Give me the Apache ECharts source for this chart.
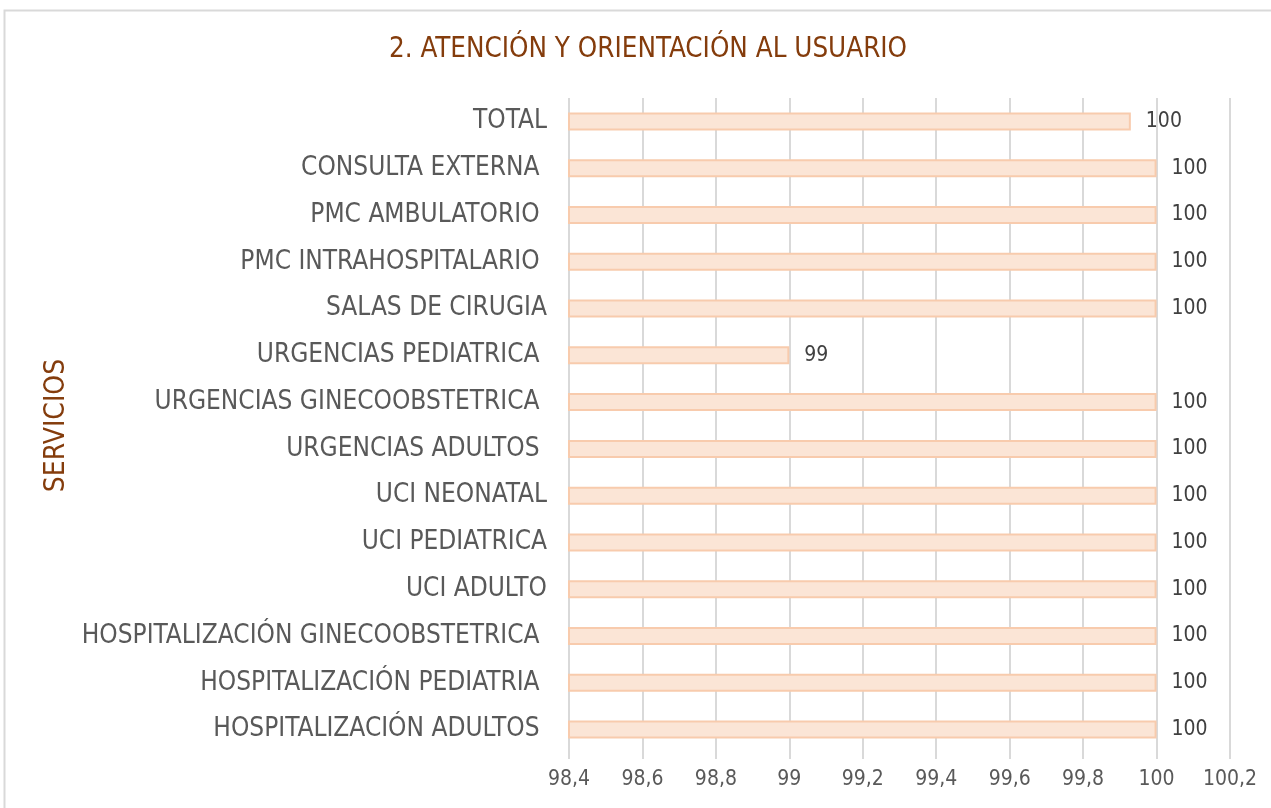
<!DOCTYPE html>
<html>
<head>
<meta charset="utf-8">
<script src="https://cdn.jsdelivr.net/npm/echarts@6/dist/echarts.min.js"></script>
<style>
  html, body { margin: 0; padding: 0; background: #fff; }
  #chart { width: 1271px; height: 808px; }
</style>
</head>
<body>
<div id="chart"></div>
<script>
// servicios, de arriba hacia abajo
var servicios = [
  'TOTAL',
  'CONSULTA EXTERNA ',
  'PMC AMBULATORIO ',
  'PMC INTRAHOSPITALARIO ',
  'SALAS DE CIRUGIA',
  'URGENCIAS PEDIATRICA ',
  'URGENCIAS GINECOOBSTETRICA ',
  'URGENCIAS ADULTOS ',
  'UCI NEONATAL',
  'UCI PEDIATRICA',
  'UCI ADULTO',
  'HOSPITALIZACIÓN GINECOOBSTETRICA ',
  'HOSPITALIZACIÓN PEDIATRIA ',
  'HOSPITALIZACIÓN ADULTOS '
];
var valores = [99.93, 100, 100, 100, 100, 99, 100, 100, 100, 100, 100, 100, 100, 100];
var ejeMin = 98.4;
var ejeMax = 100.2;
var ejePaso = 0.2;

var chart = echarts.init(document.getElementById('chart'), null, { renderer: 'canvas' });

var font = '"DejaVu Sans Condensed", "DejaVu Sans", sans-serif';

var option = {
  backgroundColor: '#ffffff',
  animation: false,
  textStyle: { fontFamily: font },
  title: {
    text: '2. ATENCIÓN Y ORIENTACIÓN AL USUARIO',
    left: 384,
    top: 31,
    textStyle: { color: '#843c0c', fontSize: 27.5, fontWeight: 'normal', fontFamily: font }
  },
  graphic: [{
    type: 'rect',
    shape: { x: 4.5, y: 10.5, width: 1300, height: 830 },
    style: { fill: null, stroke: '#d9d9d9', lineWidth: 2 },
    silent: true
  }],
  grid: { left: 569, right: 41, top: 98, bottom: 55, containLabel: false },
  xAxis: {
    type: 'value',
    min: ejeMin,
    max: ejeMax,
    interval: ejePaso,
    axisLine: { show: false },
    axisTick: { show: true, length: 6, lineStyle: { color: '#d9d9d9', width: 2 } },
    splitLine: { show: true, lineStyle: { color: '#d9d9d9', width: 2 } },
    axisLabel: {
      color: '#595959',
      fontSize: 21,
      margin: 16,
      fontFamily: font,
      formatter: function (v) { return String(+v.toFixed(1)).replace('.', ','); }
    }
  },
  yAxis: {
    type: 'category',
    inverse: true,
    data: servicios,
    name: 'SERVICIOS',
    nameLocation: 'middle',
    nameGap: 487,
    nameRotate: 90,
    nameTextStyle: { color: '#843c0c', fontSize: 28, fontFamily: font },
    axisLine: { show: false },
    axisTick: { show: false },
    axisLabel: { color: '#595959', fontSize: 26, margin: 22, fontFamily: font }
  },
  series: [{
    type: 'bar',
    data: valores,
    barWidth: 18,
    itemStyle: { color: '#fbe5d6', borderColor: '#f8cbad', borderWidth: 2 },
    label: {
      show: true,
      position: 'right',
      distance: 15,
      color: '#404040',
      fontSize: 21,
      fontFamily: font,
      formatter: function (p) { return Math.round(p.value); }
    }
  }]
};

chart.setOption(option);
</script>
</body>
</html>
